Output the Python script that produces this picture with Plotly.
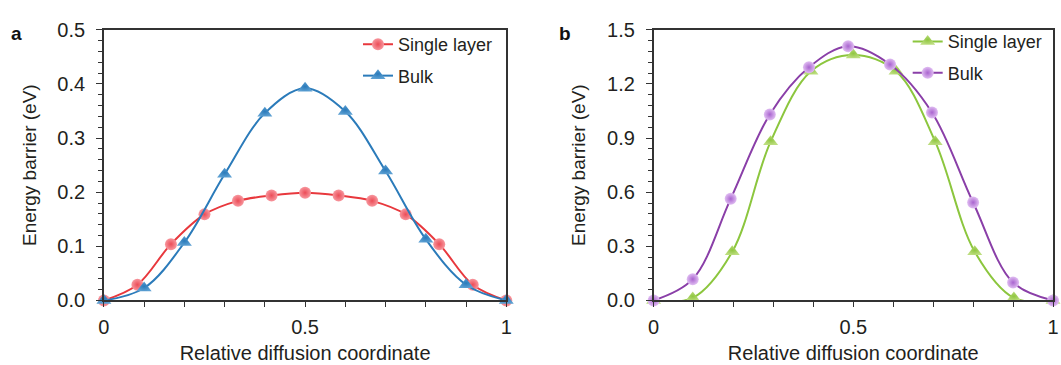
import plotly.graph_objects as go

# Panel a: energy barrier along the diffusion path
a_single_x = [0, 1/12, 2/12, 3/12, 4/12, 5/12, 6/12, 7/12, 8/12, 9/12, 10/12, 11/12, 1]
a_single_y = [0.0, 0.029, 0.104, 0.159, 0.184, 0.194, 0.199, 0.194, 0.184, 0.159, 0.104, 0.029, 0.0]
a_bulk_x = [0, 0.1, 0.2, 0.3, 0.4, 0.5, 0.6, 0.7, 0.8, 0.9, 1.0]
a_bulk_y = [0.0, 0.023, 0.107, 0.233, 0.346, 0.392, 0.349, 0.239, 0.113, 0.029, 0.0]

# Panel b
b_single_x = [0, 0.098, 0.197, 0.293, 0.394, 0.5, 0.607, 0.705, 0.804, 0.902, 1.0]
b_single_y = [0.0, 0.014, 0.27, 0.88, 1.27, 1.36, 1.27, 0.88, 0.27, 0.014, 0.0]
b_bulk_x = [0, 0.098, 0.193, 0.291, 0.389, 0.487, 0.592, 0.697, 0.80, 0.90, 1.0]
b_bulk_y = [0.0, 0.118, 0.563, 1.031, 1.292, 1.409, 1.308, 1.042, 0.543, 0.099, 0.0]

x_tickvals = [0, 0.1, 0.2, 0.3, 0.4, 0.5, 0.6, 0.7, 0.8, 0.9, 1.0]
x_ticktext = ["0", "", "", "", "", "0.5", "", "", "", "", "1"]

series_names = ["Single layer", "Bulk"]

FONT = "Liberation Sans, Arial, sans-serif"
TEXT = "#231f20"

fig = go.Figure()


def add_series(x, y, name, line_color, fill, edge, symbol, size, xa, ya, legend):
    fig.add_trace(go.Scatter(
        x=x, y=y, name=name, xaxis=xa, yaxis=ya, legend=legend, legendgroup=name,
        mode="lines+markers", cliponaxis=False,
        line=dict(color=line_color, width=2, shape="spline", smoothing=1.0),
        marker=dict(symbol=symbol, size=size, color=fill,
                    gradient=dict(type="radial", color=edge),
                    line=dict(width=0)),
    ))


add_series(a_single_x, a_single_y, series_names[0], "#e8383d", "#f7979e", "#ec4c57",
           "circle", 12, "x", "y", "legend")
add_series(a_bulk_x, a_bulk_y, series_names[1], "#2b7bba", "#5b9fd2", "#2a7aba",
           "triangle-up", 13, "x", "y", "legend")
add_series(b_single_x, b_single_y, series_names[0], "#8cc63e", "#bcdd7e", "#8fc640",
           "triangle-up", 13, "x2", "y2", "legend2")
add_series(b_bulk_x, b_bulk_y, series_names[1], "#8a3fa8", "#e0bdf2", "#a964cf",
           "circle", 12, "x2", "y2", "legend2")

y_dom = [1 - 308 / 365, 1 - 20 / 365]

xcommon = dict(range=[0, 1], tickvals=x_tickvals, ticktext=x_ticktext,
               ticks="outside", ticklen=5, tickwidth=1.2, tickcolor="#333",
               showline=True, linecolor="#333", linewidth=1.5, mirror=True,
               showgrid=False, zeroline=False, ticklabelstandoff=3,
               tickfont=dict(family=FONT, size=20, color=TEXT),
               title=dict(text="Relative diffusion coordinate",
                          font=dict(family=FONT, size=20, color=TEXT), standoff=9))
ycommon = dict(ticks="outside", ticklen=6, tickwidth=1.2, tickcolor="#333",
               showline=True, linecolor="#333", linewidth=1.5, mirror=True,
               showgrid=False, zeroline=False, tickformat=".1f", ticklabelstandoff=7,
               tickfont=dict(family=FONT, size=20, color=TEXT),
               title=dict(text="Energy barrier (eV)",
                          font=dict(family=FONT, size=19, color=TEXT), standoff=16))

fig.update_layout(
    width=1061, height=365,
    margin=dict(l=0, r=0, t=0, b=0),
    paper_bgcolor="white", plot_bgcolor="white",
    font=dict(family=FONT, size=18, color=TEXT),
    xaxis=dict(domain=[99 / 1061, 506 / 1061], anchor="y", **xcommon),
    yaxis=dict(domain=y_dom, anchor="x", range=[0, 0.5], dtick=0.1,
               minor=dict(dtick=0.02, ticks="outside", ticklen=4, tickcolor="#333"),
               **ycommon),
    xaxis2=dict(domain=[655 / 1061, 1059 / 1061], anchor="y2", **xcommon),
    yaxis2=dict(domain=y_dom, anchor="x2", range=[0, 1.5], dtick=0.3,
                minor=dict(dtick=0.06, ticks="outside", ticklen=4, tickcolor="#333"),
                **ycommon),
    legend=dict(x=356 / 1061, y=1 - 16 / 365, xanchor="left", yanchor="top",
                bgcolor="rgba(0,0,0,0)", tracegroupgap=5, itemwidth=30,
                font=dict(family=FONT, size=18, color=TEXT)),
    legend2=dict(x=912 / 1061, y=1 - 13 / 365, xanchor="left", yanchor="top",
                 bgcolor="rgba(0,0,0,0)", tracegroupgap=5, itemwidth=30,
                 font=dict(family=FONT, size=18, color=TEXT)),
    annotations=[
        dict(text="<b>a</b>", x=11 / 1061, y=1 - 24 / 365, xref="paper", yref="paper",
             showarrow=False, xanchor="center", yanchor="middle",
             font=dict(family=FONT, size=19, color="#111")),
        dict(text="<b>b</b>", x=565 / 1061, y=1 - 24 / 365, xref="paper", yref="paper",
             showarrow=False, xanchor="center", yanchor="middle",
             font=dict(family=FONT, size=19, color="#111")),
    ],
)

fig.write_html("out.html")
